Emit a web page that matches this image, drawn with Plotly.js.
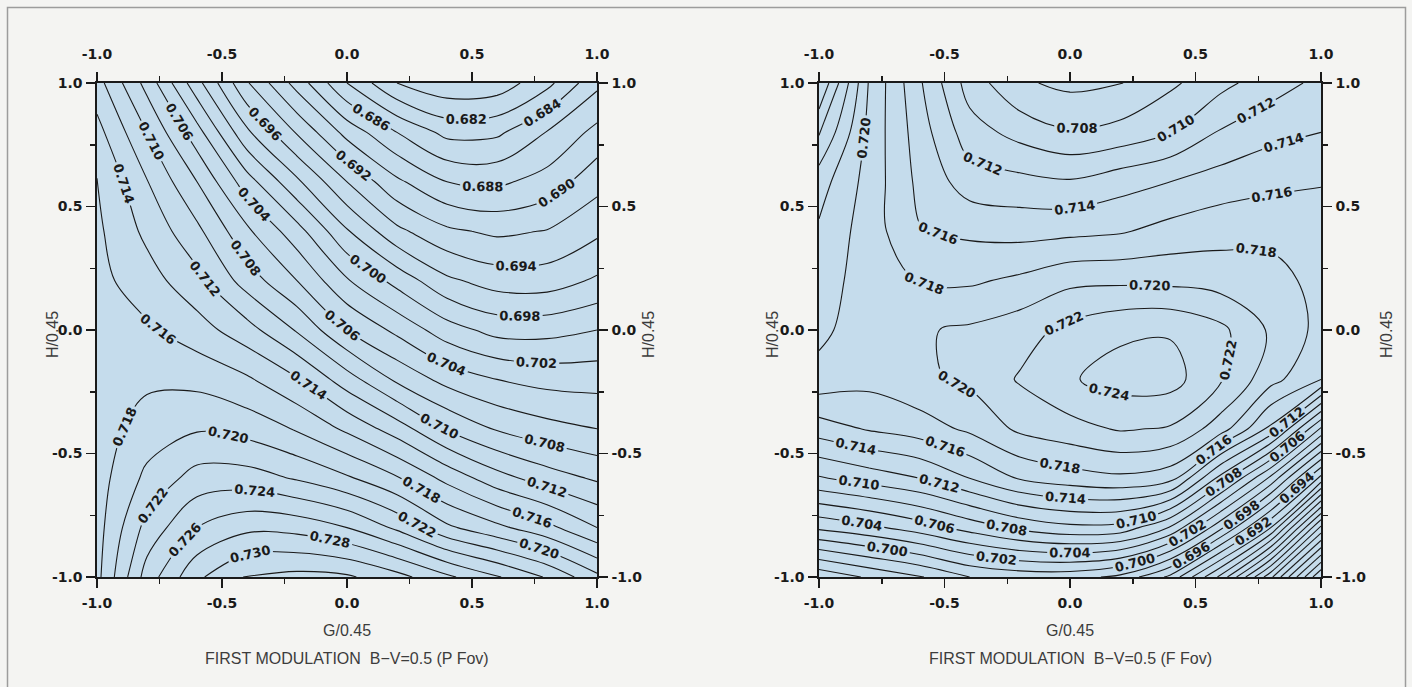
<!DOCTYPE html>
<html>
<head>
<meta charset="utf-8">
<script src="https://cdn.plot.ly/plotly-3.0.1.min.js"></script>
<style>
  html, body { margin: 0; padding: 0; background: #f4f4f2; }
  #chart { width: 1412px; height: 687px; }
</style>
</head>
<body>
<div id="chart"></div>
<script>
// Grid coordinates (G/0.45 across, H/0.45 up)
const G_VALUES = [-1, -0.8, -0.6, -0.4, -0.2, 0, 0.2, 0.4, 0.6, 0.8, 1];
const H_VALUES = [1, 0.8, 0.6, 0.4, 0.2, 0, -0.2, -0.4, -0.6, -0.8, -1];

// Axis ticks
const TICK_VALUES = [-1, -0.5, 0, 0.5, 1];
const TICK_TEXT = ['-1.0', '-0.5', '0.0', '0.5', '1.0'];
const MINOR_TICKS = [-0.75, -0.25, 0.25, 0.75];

// First modulation, B-V = 0.5, P Fov (rows follow H_VALUES, columns G_VALUES)
const Z_P_FOV = [
  [0.7128, 0.7073, 0.7007, 0.6942, 0.6892, 0.6840, 0.6800, 0.6785, 0.6788, 0.6814, 0.6855],
  [0.7147, 0.7100, 0.7048, 0.6984, 0.6938, 0.6893, 0.6860, 0.6834, 0.6836, 0.6861, 0.6886],
  [0.7161, 0.7121, 0.7080, 0.7029, 0.6984, 0.6940, 0.6904, 0.6880, 0.6876, 0.6888, 0.6913],
  [0.7164, 0.7135, 0.7105, 0.7064, 0.7028, 0.6982, 0.6945, 0.6924, 0.6916, 0.6921, 0.6936],
  [0.7166, 0.7149, 0.7126, 0.7091, 0.7060, 0.7022, 0.6993, 0.6964, 0.6951, 0.6950, 0.6963],
  [0.7167, 0.7163, 0.7149, 0.7128, 0.7098, 0.7060, 0.7035, 0.7009, 0.6993, 0.6993, 0.7000],
  [0.7169, 0.7176, 0.7174, 0.7163, 0.7142, 0.7109, 0.7076, 0.7053, 0.7040, 0.7033, 0.7032],
  [0.7170, 0.7189, 0.7198, 0.7192, 0.7178, 0.7156, 0.7130, 0.7098, 0.7078, 0.7067, 0.7060],
  [0.7171, 0.7205, 0.7228, 0.7229, 0.7218, 0.7203, 0.7182, 0.7154, 0.7128, 0.7110, 0.7097],
  [0.7172, 0.7227, 0.7260, 0.7275, 0.7273, 0.7260, 0.7236, 0.7204, 0.7185, 0.7166, 0.7140],
  [0.7174, 0.7249, 0.7296, 0.7322, 0.7326, 0.7323, 0.7307, 0.7284, 0.7262, 0.7238, 0.7205]
];

// First modulation, B-V = 0.5, F Fov
const Z_F_FOV = [
  [0.7300, 0.7198, 0.7143, 0.7091, 0.7063, 0.7055, 0.7059, 0.7076, 0.7094, 0.7111, 0.7125],
  [0.7262, 0.7194, 0.7150, 0.7109, 0.7093, 0.7082, 0.7087, 0.7100, 0.7122, 0.7134, 0.7140],
  [0.7229, 0.7192, 0.7155, 0.7130, 0.7126, 0.7122, 0.7132, 0.7140, 0.7149, 0.7155, 0.7159],
  [0.7217, 0.7190, 0.7161, 0.7156, 0.7153, 0.7155, 0.7158, 0.7167, 0.7173, 0.7174, 0.7168],
  [0.7211, 0.7189, 0.7179, 0.7177, 0.7184, 0.7195, 0.7196, 0.7195, 0.7191, 0.7188, 0.7173],
  [0.7205, 0.7188, 0.7198, 0.7203, 0.7211, 0.7226, 0.7236, 0.7238, 0.7225, 0.7197, 0.7174],
  [0.7193, 0.7186, 0.7196, 0.7204, 0.7222, 0.7238, 0.7248, 0.7248, 0.7222, 0.7187, 0.7160],
  [0.7150, 0.7162, 0.7170, 0.7184, 0.7204, 0.7213, 0.7222, 0.7218, 0.7190, 0.7135, 0.7037],
  [0.7098, 0.7109, 0.7120, 0.7140, 0.7162, 0.7171, 0.7176, 0.7168, 0.7093, 0.7015, 0.6913],
  [0.7024, 0.7035, 0.7050, 0.7068, 0.7085, 0.7095, 0.7093, 0.7058, 0.6985, 0.6900, 0.6755],
  [0.6925, 0.6943, 0.6958, 0.6980, 0.6988, 0.6988, 0.6975, 0.6935, 0.6855, 0.6745, 0.6620]
];

const PANEL_CAPTIONS = ['FIRST MODULATION  B\u2212V=0.5 (P Fov)', 'FIRST MODULATION  B\u2212V=0.5 (F Fov)'];

const W = 1412, H = 687;
const px = v => v / W;
const py = v => 1 - v / H;

const INK = '#1a1a1a';
const TICK_FONT = { family: 'DejaVu Sans, Verdana, sans-serif', size: 14, color: INK, weight: 'bold' };
const LABEL_FONT = { family: 'DejaVu Sans, Verdana, sans-serif', size: 13, color: INK, weight: 'bold' };
const TITLE_FONT = { family: 'Liberation Sans, Arial, sans-serif', size: 16, color: '#3c3c3c' };

function axis(extra) {
  return Object.assign({
    range: [-1, 1],
    autorange: false,
    showgrid: false,
    zeroline: false,
    showline: true,
    linecolor: INK,
    linewidth: 1.6,
    ticks: 'outside',
    ticklen: 9,
    tickwidth: 1.5,
    tickcolor: INK,
    tickmode: 'array',
    tickvals: TICK_VALUES,
    ticktext: TICK_TEXT,
    tickfont: TICK_FONT,
    ticklabelstandoff: 1,
    minor: { tickmode: 'array', tickvals: MINOR_TICKS, ticks: 'outside', ticklen: 5, tickwidth: 1.5, tickcolor: INK },
    fixedrange: true
  }, extra);
}

const domainY = [py(577), py(83)];
const domainLeft = [px(97), px(597)];
const domainRight = [px(819), px(1321)];

function contourTrace(z, xa, ya, start, end) {
  return {
    type: 'contour',
    x: G_VALUES,
    y: H_VALUES,
    z: z,
    xaxis: xa,
    yaxis: ya,
    showscale: false,
    hoverinfo: 'skip',
    contours: {
      coloring: 'none',
      start: start,
      end: end,
      size: 0.002,
      showlabels: true,
      labelformat: '.3f',
      labelfont: LABEL_FONT
    },
    line: { color: INK, width: 1.1, smoothing: 1 }
  };
}

// empty traces so that the mirrored top/right axes get their own subplots
function frameTrace(xa, ya) {
  return { type: 'scatter', mode: 'markers', x: [], y: [], xaxis: xa, yaxis: ya, hoverinfo: 'skip', showlegend: false };
}

const data = [
  contourTrace(Z_P_FOV, 'x', 'y', 0.680, 0.732),
  contourTrace(Z_F_FOV, 'x3', 'y3', 0.662, 0.728),
  frameTrace('x2', 'y2'),
  frameTrace('x4', 'y4')
];

function annotations() {
  const out = [];
  const panels = [
    { cx: 347, leftTitle: 52, rightTitle: 648, caption: PANEL_CAPTIONS[0] },
    { cx: 1070, leftTitle: 772, rightTitle: 1386, caption: PANEL_CAPTIONS[1] }
  ];
  panels.forEach(p => {
    out.push({ xref: 'paper', yref: 'paper', x: px(p.leftTitle), y: py(335), text: 'H/0.45', textangle: -90, showarrow: false, font: TITLE_FONT, xanchor: 'center', yanchor: 'middle' });
    out.push({ xref: 'paper', yref: 'paper', x: px(p.rightTitle), y: py(335), text: 'H/0.45', textangle: -90, showarrow: false, font: TITLE_FONT, xanchor: 'center', yanchor: 'middle' });
    out.push({ xref: 'paper', yref: 'paper', x: px(p.cx), y: py(630), text: 'G/0.45', showarrow: false, font: TITLE_FONT, xanchor: 'center', yanchor: 'middle' });
    out.push({ xref: 'paper', yref: 'paper', x: px(p.cx), y: py(658), text: p.caption, showarrow: false, font: TITLE_FONT, xanchor: 'center', yanchor: 'middle' });
  });
  return out;
}

const layout = {
  width: W,
  height: H,
  margin: { l: 0, r: 0, t: 0, b: 0 },
  paper_bgcolor: '#f4f4f2',
  plot_bgcolor: '#c5dcec',
  showlegend: false,
  font: { family: 'Liberation Sans, Arial, sans-serif', color: INK },
  xaxis: axis({ domain: domainLeft, anchor: 'y', side: 'bottom', ticklabelstandoff: 4 }),
  yaxis: axis({ domain: domainY, anchor: 'x', side: 'left' }),
  xaxis2: axis({ overlaying: 'x', anchor: 'y', side: 'top', ticklabelstandoff: 8 }),
  yaxis2: axis({ overlaying: 'y', anchor: 'x', side: 'right' }),
  xaxis3: axis({ domain: domainRight, anchor: 'y3', side: 'bottom', ticklabelstandoff: 4 }),
  yaxis3: axis({ domain: domainY, anchor: 'x3', side: 'left' }),
  xaxis4: axis({ overlaying: 'x3', anchor: 'y3', side: 'top', ticklabelstandoff: 8 }),
  yaxis4: axis({ overlaying: 'y3', anchor: 'x3', side: 'right' }),
  shapes: [
    { type: 'rect', xref: 'paper', yref: 'paper', x0: px(7.5), x1: px(1405.5), y0: -0.05, y1: py(7.5),
      line: { color: '#9c9c9c', width: 1.5 }, fillcolor: 'rgba(0,0,0,0)', layer: 'below' }
  ],
  annotations: annotations()
};

Plotly.newPlot('chart', data, layout, { staticPlot: true, displayModeBar: false });
</script>
</body>
</html>
